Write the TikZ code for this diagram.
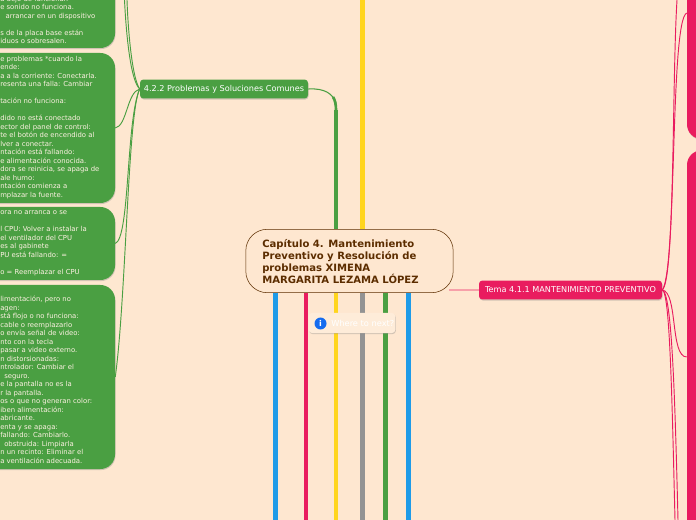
\documentclass[tikz,border=0pt]{standalone}
\usepackage{fontspec}
\setmainfont{DejaVu Sans}
\usetikzlibrary{shadows}
\definecolor{paper}{HTML}{FEE7D0}
\definecolor{mapgreen}{HTML}{4A9F42}
\definecolor{mappink}{HTML}{E91C5F}
\definecolor{mapyellow}{HTML}{FFD51E}
\definecolor{mapgray}{HTML}{939393}
\definecolor{mapblue}{HTML}{1E9BE8}
\definecolor{mapbrown}{HTML}{5C2D00}
\tikzset{
  softshadow/.style={drop shadow={shadow xshift=.4pt,shadow yshift=-.8pt,opacity=.35}},
  topicbox/.style={rounded corners=2.5pt,inner sep=0pt,text=white,minimum height=14.2pt,softshadow,font=\fontsize{6.1}{8}\selectfont},
  notebox/.style={rounded corners=11pt,minimum width=123.75pt,inner sep=0pt,softshadow},
  notetext/.style={anchor=north west,inner sep=0pt,align=left,text=paper!60!white,font=\fontsize{5.15}{6.375}\selectfont},
  trunk/.style={line width=3.4pt},
  twig/.style={line width=.7pt}
}
\begin{document}
\begin{tikzpicture}[x=.75pt,y=-.75pt]
  \useasboundingbox (0,0) rectangle (696,520);
  \fill[paper] (0,0) rectangle (696,520);
  \clip (0,0) rectangle (696,520);
  % nodes
  \node[draw=mapbrown,fill=paper,rounded corners=16pt,minimum width=155.5pt,minimum height=47.5pt,inner sep=0pt] (root) at (349.5,261) {};
  \node[anchor=north west,inner sep=0pt,align=left,text=mapbrown,font=\bfseries\fontsize{7.55}{9}\selectfont] (roottext) at (262,239) {Capítulo 4. Mantenimiento\\Preventivo y Resolución de\\problemas XIMENA\\MARGARITA LEZAMA LÓPEZ};
  \node[topicbox,fill=mapgreen,minimum width=126pt] (tema422) at (224,89) {4.2.2 Problemas y Soluciones Comunes};
  \node[topicbox,fill=mappink,minimum width=137.25pt] (tema411) at (570.5,290) {Tema 4.1.1 MANTENIMIENTO PREVENTIVO};
  \node[notebox,fill=mapgreen,minimum height=112.5pt] (boxa) at (32.5,-27) {};
  \node[notebox,fill=mapgreen,minimum height=112.5pt] (boxb) at (32.5,128) {};
  \node[notebox,fill=mapgreen,minimum height=54.75pt] (boxc) at (32.5,243.5) {};
  \node[notebox,fill=mapgreen,minimum height=138pt] (boxd) at (32.5,377) {};
  \node[notebox,fill=mappink,minimum height=189pt] (boxe) at (769.5,13) {};
  \node[notebox,fill=mappink,minimum height=310pt] (boxf) at (769.5,357) {};
  \node[notetext] (texta) at (0,-4) {a dejo de funcionar.\\e sonido no funciona.\\\hspace*{4pt}arrancar en un dispositivo\\\mbox{}\\s de la placa base están\\iduos o sobresalen.};
  \node[notetext] (textb) at (0,56) {e problemas *cuando la\\ende:\\a a la corriente: Conectarla.\\resenta una falla: Cambiar\\\mbox{}\\tación no funciona:\\\mbox{}\\dido no está conectado\\ector del panel de control:\\te el botón de encendido al\\lver a conectar.\\ntación está fallando:\\e alimentación conocida.\\dora se reinicia, se apaga de\\ale humo:\\ntación comienza a\\mplazar la fuente.};
  \node[notetext] (textc) at (0,210.5) {ora no arranca o se\\\mbox{}\\l CPU: Volver a instalar la\\el ventilador del CPU\\es al gabinete\\PU está fallando: =\\\mbox{}\\o = Reemplazar el CPU};
  \node[notetext] (textd) at (0,296) {limentación, pero no\\agen:\\stá flojo o no funciona:\\cable o reemplazarlo\\o envía señal de video:\\nto con la tecla\\pasar a video externo.\\n distorsionadas:\\ntrolador: Cambiar el\\\hspace*{3pt}seguro.\\e la pantalla no es la\\r la pantalla.\\os o que no generan color:\\iben alimentación:\\abricante.\\enta y se apaga:\\fallando: Cambiarlo.\\\hspace*{3pt}obstruida: Limpiarla\\n un recinto: Eliminar el\\a ventilación adecuada.};
  % free ends
  \coordinate (yellowtop) at (362.5,0);
  \coordinate (greenbend) at (336,110);
  \coordinate (b1) at (275.5,520);
  \coordinate (b2) at (306,520);
  \coordinate (b3) at (336,520);
  \coordinate (b4) at (362.5,520);
  \coordinate (b5) at (385.5,520);
  \coordinate (b6) at (408.5,520);
  \coordinate (gl) at (124.5,0);
  \coordinate (gr) at (127,0);
  \coordinate (pl) at (677,0);
  \coordinate (dl) at (675,520);
  \coordinate (dr) at (678,520);
  % trunks
  \draw[trunk,mapyellow] (yellowtop) -- (362.5,229);
  \draw[trunk,mapgreen] (greenbend) -- (336,229);
  \draw[mapgreen,line width=.8pt] (tema422.east) .. controls (325,88) and (333,94) .. (336,103);
  \draw[mapgreen,line width=2pt] (333,97) .. controls (335,100) and (336,104) .. (greenbend);
  \draw[trunk,mapblue] (275.5,293) -- (b1);
  \draw[trunk,mappink] (306,293) -- (b2);
  \draw[trunk,mapyellow] (336,293) -- (b3);
  \draw[trunk,mapgray] (362.5,293) -- (b4);
  \draw[trunk,mapgreen] (385.5,293) -- (b5);
  \draw[trunk,mapblue] (408.5,293) -- (b6);
  \draw[mappink!35!paper,line width=1pt] (449,290) -- (tema411.west);
  % twigs
  \draw[twig,mapgreen] (tema422.west) .. controls (130,80) and (126,30) .. (gl);
  \draw[twig,mapgreen] (tema422.west) .. controls (132,78) and (128,30) .. (gr);
  \draw[twig,mapgreen] (tema422.west) .. controls (127,92) and (127,126) .. (boxb.east);
  \draw[twig,mapgreen] (tema422.west) .. controls (126,120) and (130,238) .. (boxc.east);
  \draw[twig,mapgreen] (tema422.west) .. controls (128,110) and (126,300) .. (boxd.east);
  \draw[twig,mappink] (tema411.east) .. controls (675,280) and (672,80) .. (pl);
  \draw[twig,mappink] (tema411.east) .. controls (677,270) and (670,20) .. (boxe.west);
  \draw[twig,mappink] (tema411.east) .. controls (678,292) and (670,357) .. (boxf.west);
  \draw[twig,mappink] (tema411.east) .. controls (670,292) and (672,400) .. (dl);
  \draw[twig,mappink] (tema411.east) .. controls (672,292) and (675,400) .. (dr);
  % prompt
  \node[fill=paper!80!white,rounded corners=2.5pt,minimum width=65pt,minimum height=15pt,inner sep=0pt,softshadow] (prompt) at (352,323) {};
  \node[circle,fill=blue!30!mapblue,minimum size=9pt,inner sep=0pt,text=white,font=\bfseries\fontsize{6}{6}\selectfont] (info) at (320.5,323.5) {i};
  \node[anchor=west,inner sep=0pt,text=white,font=\fontsize{6.2}{8}\selectfont] (prompttext) at (331,323.5) {Where to next?};
\end{tikzpicture}
\end{document}
